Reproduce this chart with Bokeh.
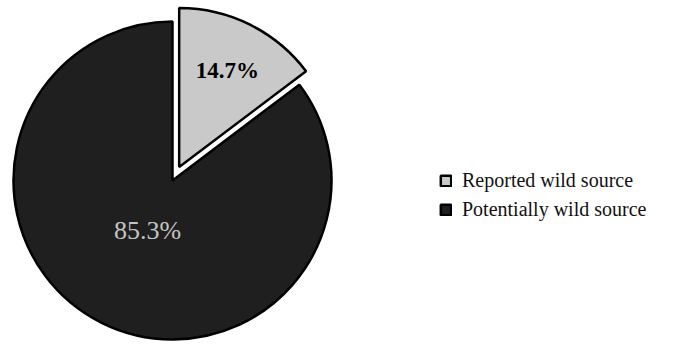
import math
from bokeh.plotting import figure
from bokeh.models import Range1d, Legend, LegendItem
from bokeh.core.properties import value
from bokeh.embed import file_html
from bokeh.resources import INLINE

categories = ["Reported wild source", "Potentially wild source"]
shares = [14.7, 85.3]
labels = ["14.7%", "85.3%"]
colors = ["#c9c9c9", "#1f1f1f"]

W, H = 697, 349
cx, cy, R = 172, 349 - 180, 159
explode = [15, 0]

p = figure(width=W, height=H, output_backend="svg", toolbar_location=None,
           x_range=Range1d(0, W), y_range=Range1d(0, H), min_border=0)
p.axis.visible = False
p.grid.visible = False
p.outline_line_color = None
p.background_fill_color = "white"

# start at 12 o'clock, go clockwise
total = sum(shares)
ang = math.pi / 2
renderers = []
for i, s in enumerate(shares):
    sweep = 2 * math.pi * s / total
    end = ang
    start = ang - sweep
    mid = (start + end) / 2
    x = cx + explode[i] * math.cos(mid)
    y = cy + explode[i] * math.sin(mid)
    r = p.wedge(x=[x], y=[y], radius=R, start_angle=start, end_angle=end,
                fill_color=colors[i], line_color="black", line_width=2.5)
    renderers.append(r)
    ang = start

# labels
sweep0 = 2 * math.pi * shares[0] / total
mid0 = math.pi / 2 - sweep0 / 2
lx0 = cx + explode[0] * math.cos(mid0) + 0.68 * R * math.cos(mid0)
ly0 = cy + explode[0] * math.sin(mid0) + 0.68 * R * math.sin(mid0)
p.text(x=[lx0], y=[ly0], text=[labels[0]], text_font=value("Liberation Serif"),
       text_font_size="23px", text_font_style="bold", text_color="black",
       text_align="center", text_baseline="middle")
mid1 = math.pi / 2 - sweep0 - (2 * math.pi - sweep0) / 2
lx1 = cx + 0.35 * R * math.cos(mid1)
ly1 = cy + 0.35 * R * math.sin(mid1)
p.text(x=[lx1], y=[ly1], text=[labels[1]], text_font=value("Liberation Serif"),
       text_font_size="26px", text_color="#c4c4c4",
       text_align="center", text_baseline="middle")

legend = Legend(items=[LegendItem(label=categories[i], renderers=[renderers[i]]) for i in range(2)],
                location=(439, 128), label_text_font="Liberation Serif",
                label_text_font_size="20px", label_text_color="#111111",
                glyph_width=13, glyph_height=13, spacing=6, padding=0,
                label_standoff=10, border_line_color=None, background_fill_alpha=0)
p.add_layout(legend)

open("out.html", "w").write(file_html(p, INLINE))
